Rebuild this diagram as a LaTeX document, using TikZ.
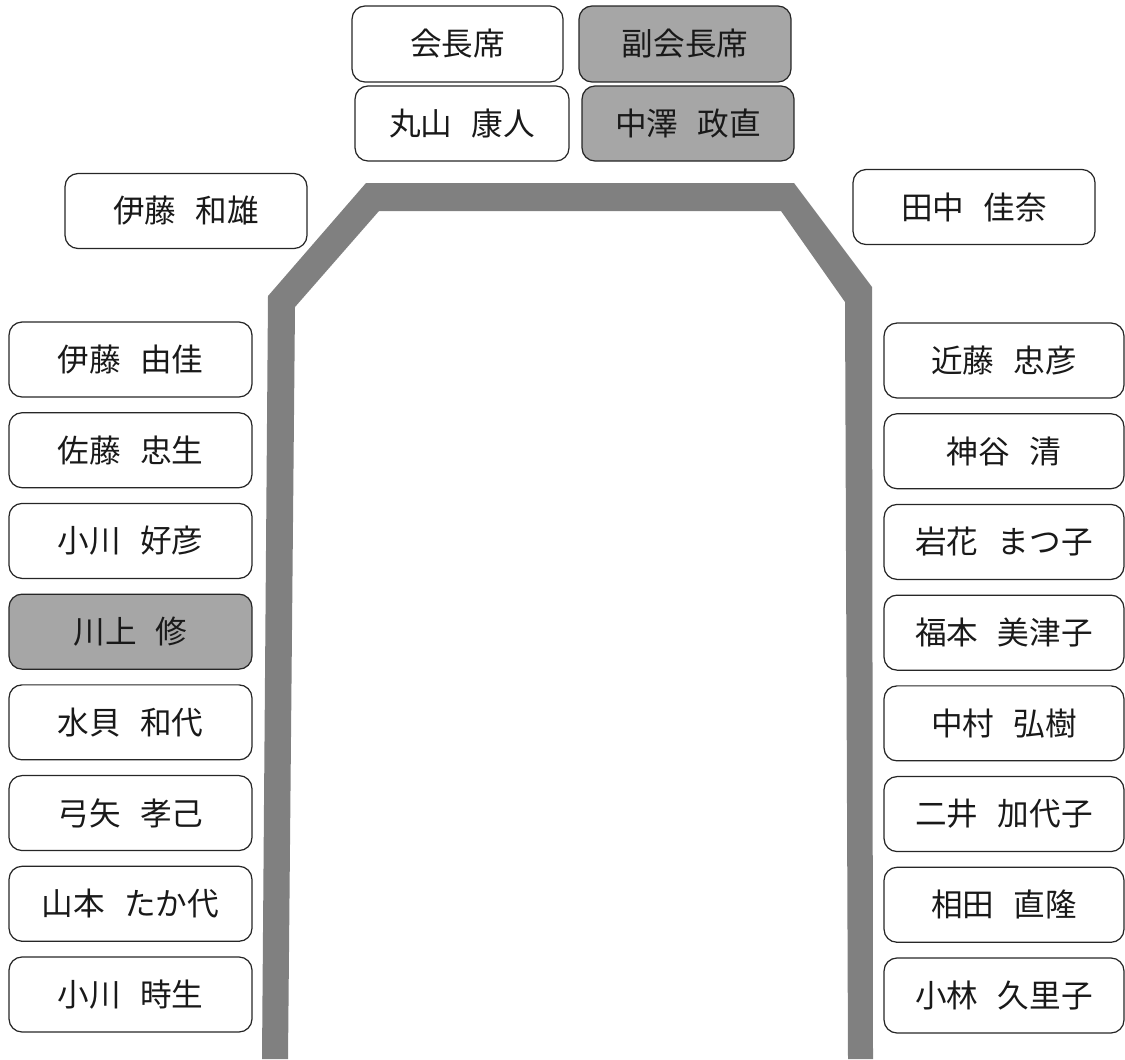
\documentclass[tikz,border=0pt]{standalone}
\usepackage{fontspec}
\setmainfont{Noto Sans CJK JP}
\usetikzlibrary{positioning}
\newcommand{\namegap}{{\fontsize{11pt}{11pt}\selectfont 　}}

\begin{document}
\begin{tikzpicture}[
    x=0.02cm, y=-0.02cm,
    node distance=0.29cm,
    seat/.style={rectangle, draw=black!85, line width=0.7pt, rounded corners=0.26cm, minimum height=1.5cm, minimum width=4.86cm, align=center, font=\fontsize{18}{21}\selectfont, text=black!90},
    vice/.style={seat, fill=black!35}
]
\useasboundingbox (0,0) rectangle (1125,1059);

% Table
\fill[black!50] (262,1059) -- (268,296) -- (366,183) -- (794,183) -- (872,287) -- (873,1059)
    -- (848,1059) -- (845,302) -- (781,211) -- (379,211) -- (295,307) -- (288,1059) -- cycle;

% Head seats
\node[seat, minimum width=4.22cm, minimum height=1.52cm] (kaicho) at (457.5,44) {会長席};
\node[vice, minimum width=4.24cm, minimum height=1.52cm] (fukukaicho) at (685,44) {副会長席};
\node[seat, minimum width=4.28cm] (maruyama) at (462,123.5) {丸山\namegap 康人};
\node[vice, minimum width=4.24cm] (nakazawa) at (688,123.5) {中澤\namegap 政直};

% Corner seats
\node[seat, minimum width=4.84cm] (itokazuo) at (186,211) {伊藤\namegap 和雄};
\node[seat, minimum width=4.84cm] (tanaka) at (974,207) {田中\namegap 佳奈};

% Left column
\node[seat] (l1) at (130.5,359.5) {伊藤\namegap 由佳};
\node[seat, below=of l1] (l2) {佐藤\namegap 忠生};
\node[seat, below=of l2] (l3) {小川\namegap 好彦};
\node[vice, below=of l3] (l4) {川上\namegap 修};
\node[seat, below=of l4] (l5) {水貝\namegap 和代};
\node[seat, below=of l5] (l6) {弓矢\namegap 孝己};
\node[seat, below=of l6] (l7) {山本\namegap たか代};
\node[seat, below=of l7] (l8) {小川\namegap 時生};

% Right column
\node[seat, minimum width=4.8cm] (r1) at (1004,360.5) {近藤\namegap 忠彦};
\node[seat, minimum width=4.8cm, below=of r1] (r2) {神谷\namegap 清};
\node[seat, minimum width=4.8cm, below=of r2] (r3) {岩花\namegap まつ子};
\node[seat, minimum width=4.8cm, below=of r3] (r4) {福本\namegap 美津子};
\node[seat, minimum width=4.8cm, below=of r4] (r5) {中村\namegap 弘樹};
\node[seat, minimum width=4.8cm, below=of r5] (r6) {二井\namegap 加代子};
\node[seat, minimum width=4.8cm, below=of r6] (r7) {相田\namegap 直隆};
\node[seat, minimum width=4.8cm, below=of r7] (r8) {小林\namegap 久里子};

\end{tikzpicture}
\end{document}
